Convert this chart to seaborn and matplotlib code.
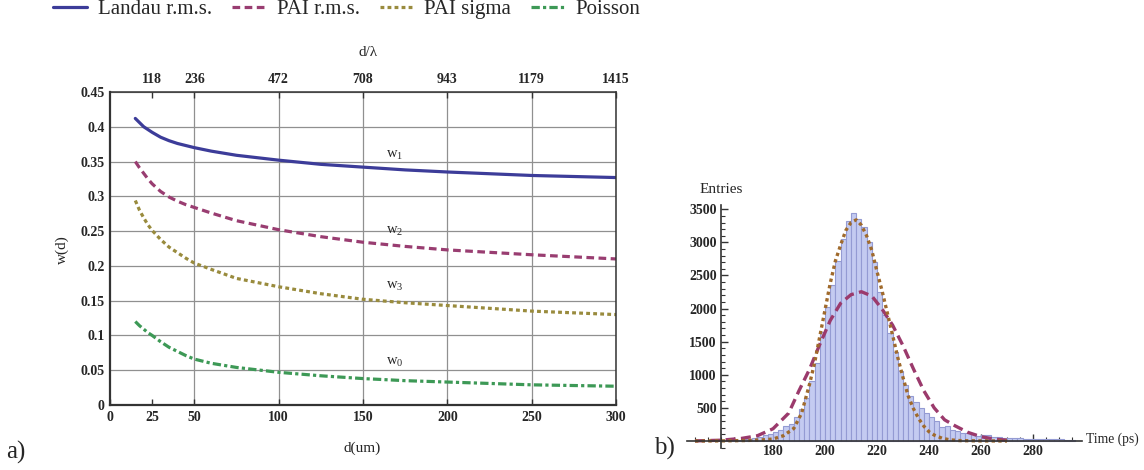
import matplotlib
matplotlib.use('Agg')
import matplotlib.pyplot as plt
import seaborn as sns
from matplotlib.ticker import MultipleLocator

# a) width of the distribution vs. thickness d (values read off the plot)
d = [15, 17.5, 20, 22.5, 25, 30, 35, 40, 45, 50, 60, 75, 100, 125, 150, 175, 200, 250, 300]
landau_rms = [0.412, 0.406, 0.400, 0.396, 0.392, 0.385, 0.380, 0.376, 0.373, 0.370, 0.365, 0.359, 0.352, 0.346, 0.342, 0.338, 0.335, 0.330, 0.327]
pai_rms = [0.350, 0.341, 0.333, 0.325, 0.318, 0.307, 0.299, 0.293, 0.288, 0.284, 0.276, 0.265, 0.252, 0.242, 0.234, 0.228, 0.223, 0.216, 0.210]
pai_sigma = [0.294, 0.280, 0.269, 0.259, 0.251, 0.238, 0.227, 0.219, 0.211, 0.204, 0.195, 0.182, 0.170, 0.160, 0.152, 0.147, 0.143, 0.135, 0.130]
poisson = [0.120, 0.114, 0.109, 0.104, 0.100, 0.091, 0.083, 0.077, 0.071, 0.066, 0.060, 0.054, 0.047, 0.042, 0.038, 0.035, 0.033, 0.029, 0.027]

series_names = ['Landau r.m.s.', 'PAI r.m.s.', 'PAI sigma', 'Poisson']
curve_labels = [r'w$_1$', r'w$_2$', r'w$_3$', r'w$_0$']
label_pos = [(169, 0.359), (169, 0.249), (169, 0.170), (169, 0.0605)]

x_ticks = [0, 25, 50, 100, 150, 200, 250, 300]
x_grid = [50, 100, 150, 200, 250, 300]
top_ticks = [25, 50, 100, 150, 200, 250, 300]
top_labels = ['118', '236', '472', '708', '943', '1179', '1415']
y_ticks = [0, 0.05, 0.1, 0.15, 0.2, 0.25, 0.3, 0.35, 0.4, 0.45]
y_labels = ['0', '0.05', '0.1', '0.15', '0.2', '0.25', '0.3', '0.35', '0.4', '0.45']

# b) time histogram, 2 ps bins starting at 162 ps
bin_left = list(range(162, 296, 2))
entries = [5, 10, 15, 25, 35, 50, 65, 85, 105, 130, 165, 230, 255, 360, 490, 650, 905, 1175, 1640,
           2030, 2355, 2720, 3045, 3330, 3450, 3360, 3235, 3010, 2710,
           2255, 1905, 1625, 1350, 1050, 845, 680, 595, 495, 420,
           365, 305, 210, 225, 165, 150, 125, 115, 105, 80,
           90, 85, 65, 55, 50, 45, 45, 40, 35, 35,
           30, 30, 25, 25, 30, 25, 15, 15]

# fitted curves
t_rms = [150, 160, 168, 174, 180, 186, 190, 194, 198, 202, 206, 210, 214, 218, 222, 226, 230, 234, 238, 242, 246, 250, 255, 260, 265, 270]
fit_rms = [2, 12, 40, 80, 185, 420, 760, 1080, 1460, 1820, 2080, 2210, 2255, 2190, 1990, 1750, 1440, 1090, 760, 500, 320, 230, 130, 65, 30, 12]
t_sig = [150, 160, 170, 176, 180, 184, 188, 191, 194, 196, 198, 200, 202, 204, 206, 208, 210, 212, 214, 216, 218,
         220, 222, 224, 226, 228, 230, 232, 234, 236, 238, 240, 242, 245, 248, 252, 260, 270]
fit_sig = [0, 2, 8, 18, 30, 80, 190, 420, 850, 1180, 1580, 1980, 2380, 2720, 2960, 3180, 3300, 3340, 3260, 3100, 2880,
           2560, 2260, 1930, 1600, 1260, 960, 680, 490, 340, 225, 140, 90, 42, 18, 6, 2, 0]
yb_ticks = [500, 1000, 1500, 2000, 2500, 3000, 3500]
xb_ticks = [180, 200, 220, 240, 260, 280]

sns.set_style('white')
plt.rcParams['font.family'] = ['Liberation Serif', 'DejaVu Serif']
plt.rcParams['mathtext.fontset'] = 'custom'
plt.rcParams['mathtext.rm'] = 'Liberation Serif'
plt.rcParams['mathtext.it'] = 'Liberation Serif'

colors = ['#3c3c99', '#993d71', '#998b3d', '#3d9956']
styles = ['-', (0, (2.4, 1.4)), (0, (1.2, 1.0)), (0, (2.6, 1.0, 1.0, 1.0))]

fig = plt.figure(figsize=(11.44, 4.70), dpi=100)
axa = fig.add_axes([110 / 1144, 65 / 470, 506 / 1144, 313 / 470])
axb = fig.add_axes([687.2 / 1144, 21.7 / 470, 395.2 / 1144, 243 / 470])

# ---------- panel a ----------
for xg in x_grid:
    axa.axvline(xg, color='#909090', lw=0.9, zorder=0)
for yg in y_ticks[1:]:
    axa.axhline(yg, color='#909090', lw=0.9, zorder=0)

handles = []
for vals, name, c, ls in zip([landau_rms, pai_rms, pai_sigma, poisson], series_names, colors, styles):
    sns.lineplot(x=d, y=vals, ax=axa, color=c, lw=2.3, label=name)
    line = axa.lines[-1]
    line.set_linestyle(ls)
    handles.append(line)
axa.get_legend().remove()

for lab, (xp, yp) in zip(curve_labels, label_pos):
    axa.text(xp, yp, lab, ha='center', va='center', fontsize=10.5)

axa.set_xlim(0, 300)
axa.set_ylim(0, 0.45)
axa.set_xticks(x_ticks, [str(v) for v in x_ticks], fontweight='bold', fontsize=10)
axa.set_yticks(y_ticks, y_labels, fontweight='bold', fontsize=10)
axa.tick_params(direction='in', length=4, width=1, color='#333333', pad=4)
for s in axa.spines.values():
    s.set_color('#333333')
    s.set_linewidth(1.1)
axa.spines['bottom'].set_linewidth(1.6)
axa.spines['left'].set_linewidth(1.6)
axa.set_xlabel('d(um)', fontsize=11)
axa.xaxis.set_label_coords(0.498, -0.118)
axa.set_ylabel('w(d)', fontsize=11)
axa.yaxis.set_label_coords(-0.082, 0.495)

axt = axa.twiny()
axt.set_xlim(0, 300)
axt.set_xticks(top_ticks, top_labels, fontweight='bold', fontsize=10)
axt.tick_params(direction='in', length=4, width=1, color='#333333', pad=4)
for s in axt.spines.values():
    s.set_visible(False)
axt.set_xlabel('d/λ', fontsize=11)
axt.xaxis.set_label_coords(0.51, 1.115)

# ---------- panel b ----------
bin_edges = bin_left + [bin_left[-1] + 2]
centers = [b + 1 for b in bin_left]
sns.histplot(x=centers, weights=entries, bins=bin_edges, ax=axb, color='#c4cbf1',
             edgecolor='#949bd3', linewidth=0.8, alpha=1)
sns.lineplot(x=t_rms, y=fit_rms, ax=axb, color='#9b3a6c', lw=2.4)
axb.lines[-1].set_linestyle((0, (3.0, 1.6)))
sns.lineplot(x=t_sig, y=fit_sig, ax=axb, color='#a06a2c', lw=2.4)
axb.lines[-1].set_linestyle((0, (1.0, 1.0)))

axb.set_xlim(147, 299)
axb.set_ylim(-110, 3560)
axb.spines['left'].set_position(('data', 160))
axb.spines['bottom'].set_position(('data', 0))
axb.spines['top'].set_visible(False)
axb.spines['right'].set_visible(False)
for s in ['left', 'bottom']:
    axb.spines[s].set_color('#333333')
    axb.spines[s].set_linewidth(1.2)
axb.set_xticks(xb_ticks, [str(v) for v in xb_ticks], fontweight='bold', fontsize=10)
axb.set_yticks(yb_ticks, [str(v) for v in yb_ticks], fontweight='bold', fontsize=10)
axb.xaxis.set_minor_locator(MultipleLocator(5))
axb.yaxis.set_minor_locator(MultipleLocator(100))
axb.tick_params(which='major', direction='in', length=5, width=1, color='#333333', pad=3)
axb.tick_params(which='minor', direction='in', length=3, width=0.8, color='#333333')
axb.tick_params(axis='x', which='both', bottom=True)
axb.tick_params(axis='y', which='both', left=True)
axb.set_ylabel('Entries', rotation=0, fontsize=11)
axb.yaxis.set_label_coords(0.0855, 1.038)
axb.set_xlabel('Time (ps)', fontsize=9.8, ha='left')
axb.xaxis.set_label_coords(1.01, 0.067)

fig.text(16 / 1144, 1 - 452 / 470, 'a)', fontsize=18, ha='center', va='center')
fig.text(664 / 1144, 1 - 448 / 470, 'b)', fontsize=18, ha='center', va='center')

fig.legend(handles, series_names, loc='center', bbox_to_anchor=(347 / 1144, 1 - 9 / 470),
           ncol=4, frameon=False, fontsize=15, handlelength=1.6, handletextpad=0.55,
           columnspacing=0.95)

fig.savefig('out.png', dpi=100)
